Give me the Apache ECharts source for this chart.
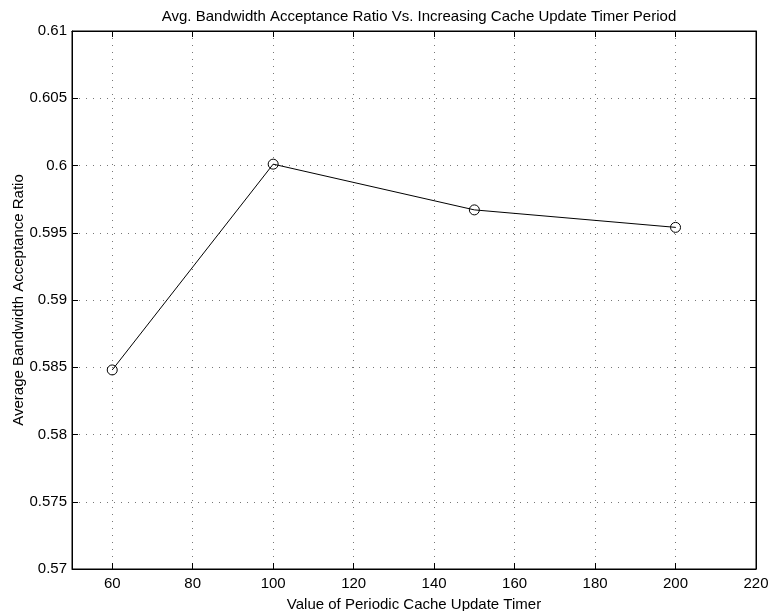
<!DOCTYPE html>
<html>
<head>
<meta charset="utf-8">
<script src="https://cdn.jsdelivr.net/npm/echarts@6/dist/echarts.min.js"></script>
<style>html,body{margin:0;padding:0;background:#fff;}#c{width:769px;height:611px;}</style>
</head>
<body>
<div id="c"></div>
<script>
var timerValues = [60, 100, 150, 200];
var acceptanceRatio = [0.5848, 0.6001, 0.5967, 0.5954];
var xTickValues = [60, 80, 100, 120, 140, 160, 180, 200, 220];
var titleText = 'Avg. Bandwidth Acceptance Ratio Vs. Increasing Cache Update Timer Period';
var xName = 'Value of Periodic Cache Update Timer';
var yName = 'Average Bandwidth Acceptance Ratio';

var font = 'Liberation Sans, Arial, Helvetica, sans-serif';
var fs = 15;
var chart = echarts.init(document.getElementById('c'), null, {renderer: 'canvas'});
var gridLine = {show: true, lineStyle: {color: '#777', width: 1, type: [1, 6]}};
var tick = {show: true, inside: true, length: 6, lineStyle: {color: '#000'}};
var xTick = {show: true, inside: true, length: 6, lineStyle: {color: '#000'}, customValues: xTickValues};
chart.setOption({
  animation: false,
  backgroundColor: '#fff',
  title: {
    text: titleText, left: 414, top: 4, textAlign: 'center',
    textStyle: {fontFamily: font, fontSize: fs, fontWeight: 'normal', color: '#000'}
  },
  grid: {left: 72, right: 13, top: 31, bottom: 42, show: true, borderColor: '#000', borderWidth: 1,
    containLabel: false, outerBoundsMode: 'none'},
  xAxis: [{
    type: 'value', min: 50, max: 220,
    name: xName, nameLocation: 'middle', nameGap: 28, nameMoveOverlap: false,
    nameTextStyle: {fontFamily: font, fontSize: fs, color: '#000'},
    axisLine: {show: true, onZero: false, lineStyle: {color: '#000'}},
    axisTick: xTick,
    axisLabel: {fontFamily: font, fontSize: fs, color: '#000', margin: 7, customValues: xTickValues},
    splitLine: gridLine
  }, {
    type: 'value', position: 'top', min: 50, max: 220,
    axisLine: {show: true, onZero: false, lineStyle: {color: '#000'}},
    axisTick: xTick, axisLabel: {show: false, customValues: xTickValues}, splitLine: {show: false}
  }],
  yAxis: [{
    type: 'value', min: 0.57, max: 0.61, interval: 0.005,
    name: yName, nameLocation: 'middle', nameGap: 46, nameMoveOverlap: false,
    nameTextStyle: {fontFamily: font, fontSize: fs, color: '#000'},
    axisLine: {show: true, onZero: false, lineStyle: {color: '#000'}},
    axisTick: tick,
    axisLabel: {fontFamily: font, fontSize: fs, color: '#000', margin: 5,
      formatter: function(v){ return String(parseFloat(v.toFixed(3))); }},
    splitLine: gridLine
  }, {
    type: 'value', position: 'right', min: 0.57, max: 0.61, interval: 0.005,
    axisLine: {show: true, onZero: false, lineStyle: {color: '#000'}},
    axisTick: tick, axisLabel: {show: false}, splitLine: {show: false}
  }],
  series: [{
    type: 'line',
    data: timerValues.map(function(x, i){ return [x, acceptanceRatio[i]]; }),
    symbol: 'circle', symbolSize: 10, showAllSymbol: true,
    itemStyle: {color: 'rgba(0,0,0,0)', borderColor: '#000', borderWidth: 1},
    lineStyle: {color: '#000', width: 1},
    z: 5
  }]
});
</script>
</body>
</html>
